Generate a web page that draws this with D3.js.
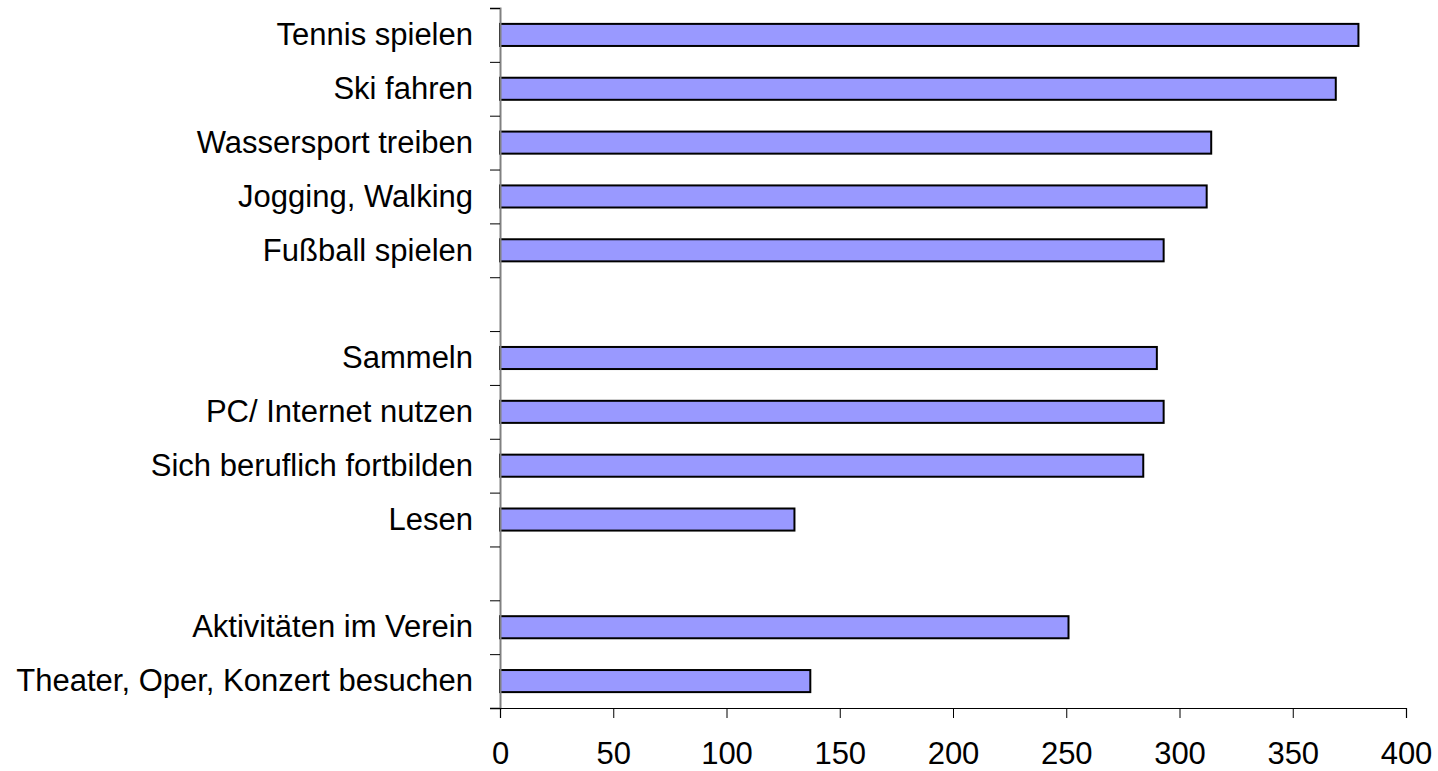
<!DOCTYPE html>
<html>
<head>
<meta charset="utf-8">
<script src="https://cdn.jsdelivr.net/npm/d3@7"></script>
<style>
  body { margin: 0; background: #fff; }
  svg { display: block; font-family: "Liberation Sans", Arial, sans-serif; }
</style>
</head>
<body>
<div id="chart"></div>
<script>
// categories top to bottom, "" = empty slot in the chart
var categories = ["Tennis spielen", "Ski fahren", "Wassersport treiben", "Jogging, Walking",
  "Fußball spielen", "", "Sammeln", "PC/ Internet nutzen", "Sich beruflich fortbilden",
  "Lesen", "", "Aktivitäten im Verein", "Theater, Oper, Konzert besuchen"];
var values = [379, 369, 314, 312, 293, null, 290, 293, 284, 130, null, 251, 137];
var xTicks = [0, 50, 100, 150, 200, 250, 300, 350, 400];

var margin = {top: 8, right: 32, bottom: 63, left: 500},
  width = 1438 - margin.left - margin.right,
  height = 771 - margin.top - margin.bottom;

var svg = d3.select("#chart")
  .append("svg")
    .attr("width", 1438)
    .attr("height", 771)
  .append("g")
    .attr("transform", "translate(" + margin.left + "," + margin.top + ")");

var x = d3.scaleLinear()
  .domain([0, 400])
  .range([0, width]);

var idx = d3.range(categories.length);

// band scale for the bars
var y = d3.scaleBand()
  .domain(idx)
  .range([0, height])
  .paddingInner(0.59)
  .paddingOuter(0.295);

// linear scale for slot boundaries (tick marks)
var yEdge = d3.scaleLinear()
  .domain([0, categories.length])
  .range([0, height]);

// bars
svg.selectAll("rect.bar")
  .data(idx.filter(function(i) { return values[i] != null; }))
  .enter()
  .append("rect")
    .attr("class", "bar")
    .attr("x", x(0))
    .attr("y", function(i) { return y(i); })
    .attr("width", function(i) { return x(values[i]) - x(0); })
    .attr("height", y.bandwidth())
    .style("fill", "#9999ff")
    .style("stroke", "#000")
    .style("stroke-width", 2);

// y boundary ticks
var yTickAxis = svg.append("g")
  .call(d3.axisLeft(yEdge).tickValues(d3.range(categories.length + 1)).tickSize(10).tickFormat(""));
yTickAxis.select(".domain").attr("stroke", "#808080").attr("stroke-width", 2);
yTickAxis.selectAll(".tick line").attr("stroke", "#000").attr("stroke-width", 1);

// y labels
var yLabels = svg.append("g")
  .call(d3.axisLeft(y).tickSize(0).tickPadding(27).tickFormat(function(i) { return categories[i]; }));
yLabels.select(".domain").remove();
yLabels.selectAll("text")
  .style("font-size", "31px")
  .style("fill", "#000")
  .attr("dy", "0.33em");

// x axis
var xAxis = svg.append("g")
  .attr("transform", "translate(0," + height + ")")
  .call(d3.axisBottom(x).tickValues(xTicks).tickSize(10).tickPadding(24));
xAxis.select(".domain").attr("stroke", "#000").attr("stroke-width", 1.2);
xAxis.selectAll(".tick line").attr("stroke", "#000");
xAxis.selectAll("text")
  .style("font-size", "31px")
  .style("fill", "#000");
</script>
</body>
</html>
